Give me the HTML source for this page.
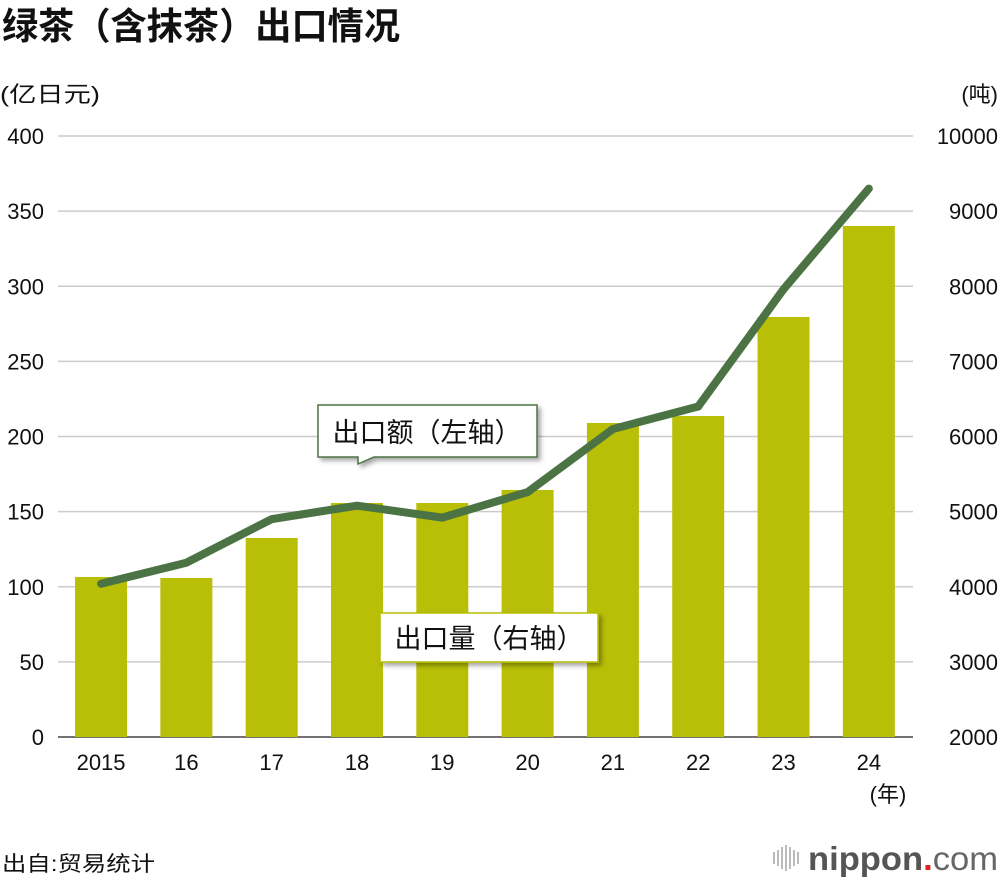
<!DOCTYPE html>
<html><head><meta charset="utf-8"><style>
body{margin:0;background:#fff;font-family:"Liberation Sans","Noto Sans CJK SC",sans-serif;}
svg text{font-family:"Liberation Sans","Noto Sans CJK SC",sans-serif;}
</style></head><body>
<svg id="c" width="1000" height="882" xmlns="http://www.w3.org/2000/svg">
<defs><filter id="sh" x="-10%" y="-10%" width="130%" height="140%"><feDropShadow dx="3" dy="3" stdDeviation="2.5" flood-color="#000" flood-opacity="0.35"/></filter></defs>
<text x="2" y="39" font-size="37" font-weight="bold" fill="#111" textLength="398" lengthAdjust="spacingAndGlyphs">绿茶（含抹茶）出口情况</text>
<text x="0" y="102" font-size="22" fill="#111" textLength="100" lengthAdjust="spacingAndGlyphs">(亿日元)</text>
<text x="998" y="102" font-size="22" fill="#111" text-anchor="end">(吨)</text>
<g id="grid"></g><g id="bars"></g><g id="line"></g><g id="ticks"></g>
<g>
<path d="M318,405 H537 V457 H374 L358,464 L358,457 H318 Z" fill="#fff" stroke="#4c7343" stroke-width="1.5" filter="url(#sh)"/>
<text x="427" y="442" font-size="27" text-anchor="middle" fill="#111">出口额（左轴）</text></g>
<g>
<rect x="380" y="613" width="218" height="49" fill="#fff" stroke="#b8bf06" stroke-width="1.5" filter="url(#sh)"/>
<text x="489" y="648" font-size="27" text-anchor="middle" fill="#111">出口量（右轴）</text></g>
<text x="888" y="802" font-size="22" text-anchor="middle" fill="#111">(年)</text>
<text x="2" y="871" font-size="21" fill="#111" textLength="153" lengthAdjust="spacingAndGlyphs">出自:贸易统计</text>
<g>
<g stroke="#aaa" stroke-width="1.6"><line x1="774" y1="852" x2="774" y2="864"/><line x1="778" y1="850" x2="778" y2="866"/><line x1="782" y1="847" x2="782" y2="869"/><line x1="786" y1="845" x2="786" y2="871"/><line x1="790" y1="847" x2="790" y2="869"/><line x1="794" y1="850" x2="794" y2="866"/><line x1="798" y1="852" x2="798" y2="864"/></g>
<text x="808" y="870" font-size="33" font-weight="bold" fill="#555" textLength="190" lengthAdjust="spacingAndGlyphs">nippon<tspan fill="#e02020">.</tspan><tspan font-weight="normal" fill="#666">com</tspan></text></g>
</svg>
<script>
const categories=["2015","16","17","18","19","20","21","22","23","24"];
const exportValue=[102,116,145,154,146,163,205,220,298,365];
const exportVolume=[4130,4117,4649,5115,5115,5288,6180,6273,7591,8802];
const leftTicks=[0,50,100,150,200,250,300,350,400];
const rightTicks=[2000,3000,4000,5000,6000,7000,8000,9000,10000];
const NS="http://www.w3.org/2000/svg";
const X0=58.4,X1=911.5,Y0=737,Y1=136;
const band=(X1-X0)/categories.length;
const xc=i=>X0+band*(i+0.5);
const yL=v=>Y0-(v-0)/400*(Y0-Y1);
const yR=v=>Y0-(v-2000)/8000*(Y0-Y1);
function mk(t,a,p){const e=document.createElementNS(NS,t);for(const k in a)e.setAttribute(k,a[k]);p.appendChild(e);return e;}
const grid=document.getElementById('grid'),bars=document.getElementById('bars'),line=document.getElementById('line'),ticks=document.getElementById('ticks');
leftTicks.forEach((v,i)=>{const y=yL(v);
 const g=mk('line',{x1:58,x2:913,y1:y,y2:y,stroke:v===0?'#444':'#ccc','stroke-width':1.5},grid);
 
 
 const t=mk('text',{x:44,y:y+8,'font-size':22,'text-anchor':'end',fill:'#111'},ticks);t.textContent=v;
 
 
});
rightTicks.forEach(v=>{const y=yR(v);
 const t=mk('text',{x:998,y:y+8,'font-size':22,'text-anchor':'end',fill:'#111'},ticks);t.textContent=v;
 
 
});
categories.forEach((c,i)=>{
 const b=mk('rect',{x:xc(i)-26,y:yR(exportVolume[i]),width:52,height:Y0-yR(exportVolume[i]),fill:'#b8bf06'},bars);
 
 
 const t=mk('text',{x:xc(i),y:770,'font-size':22,'text-anchor':'middle',fill:'#111'},ticks);t.textContent=c;
 
 
});
const pl=mk('polyline',{points:exportValue.map((v,i)=>xc(i)+','+yL(v)).join(' '),fill:'none',stroke:'#4c7343','stroke-width':8,'stroke-linejoin':'miter','stroke-linecap':'round'},line);


</script>
</body></html>
